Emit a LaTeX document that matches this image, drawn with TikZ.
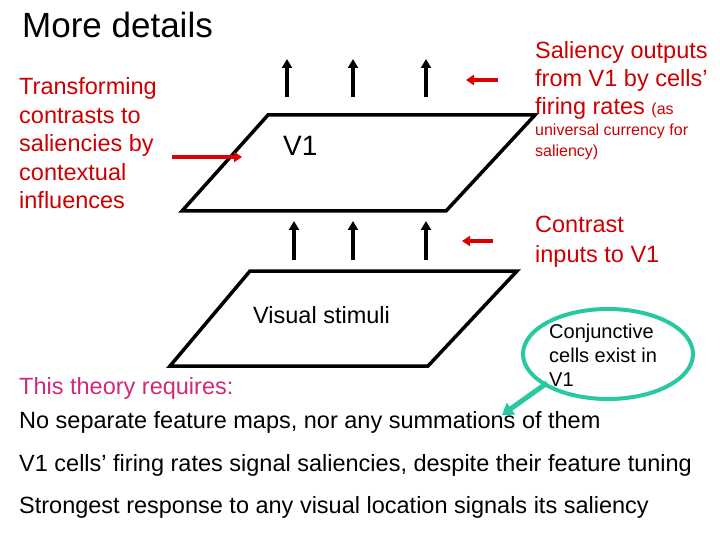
\documentclass[tikz,border=0pt]{standalone}
\usetikzlibrary{arrows.meta,shapes.geometric}
\usepackage{fontspec}
\setmainfont{Liberation Sans}
\begin{document}
\begin{tikzpicture}[x=1pt,y=-1pt,
  plane/.style={draw=black,line width=3.5pt,line join=miter},
  uparr/.style={draw=black,line width=4pt,-{Triangle[length=9pt,width=10pt]}},
  redarr/.style={draw={rgb,255:red,220;green,0;blue,0},line width=4pt,-{Triangle[length=8pt,width=10pt]}},
  txt/.style={anchor=base west,inner sep=0pt},
  big/.style={font=\fontsize{23.5}{28}\selectfont},
  small/.style={font=\fontsize{16}{20}\selectfont}]
\definecolor{rd}{RGB}{204,0,0}
\definecolor{pk}{RGB}{210,40,120}
\definecolor{tl}{RGB}{40,200,160}
\useasboundingbox (0,0) rectangle (720,540);
% title
\node[txt,font=\fontsize{35}{40}\selectfont] (title) at (22,38) {More details};
\node[txt,big,text=rd] (l1) at (19,95) {Transforming};
\node[txt,big,text=rd] (l2) at (19,124) {contrasts to};
\node[txt,big,text=rd] (l3) at (19,152) {saliencies by};
\node[txt,big,text=rd] (l4) at (19,181) {contextual};
\node[txt,big,text=rd] (l5) at (19,209) {influences};
% upper plane
\draw[plane] (268,115) -- (535,115) -- (446,211) -- (182,211) -- cycle;
\node[txt,font=\fontsize{28}{32}\selectfont] (v1) at (283,156) {V1};
\coordinate (la) at (172,157); \coordinate (lb) at (242,157);
\draw[redarr] (la) -- (lb);
\foreach \x/\n in {287/a,353/b,426/c}{
  \coordinate (u\n1) at (\x,97); \coordinate (u\n2) at (\x,59);
  \draw[uparr] (u\n1) -- (u\n2);
  \coordinate (d\n1) at (\x,260); \coordinate (d\n2) at (\x,221);
}
\draw[uparr] (294,260) -- (294,221);
\draw[uparr] (db1) -- (db2);
\draw[uparr] (dc1) -- (dc2);
\coordinate (r1a) at (498,80); \coordinate (r1b) at (466,80);
\draw[redarr] (r1a) -- (r1b);
\coordinate (r2a) at (493,241); \coordinate (r2b) at (462,241);
\draw[redarr] (r2a) -- (r2b);
% lower plane
\draw[plane] (250,271) -- (517,271) -- (428,366) -- (170,366) -- cycle;
\node[txt,font=\fontsize{23.5}{28}\selectfont] (vs) at (253,323) {Visual stimuli};
% right texts
\node[txt,big,text=rd] (s1) at (535,59) {Saliency outputs};
\node[txt,big,text=rd] (s2) at (535,87) {from V1 by cells’};
\node[txt,big,text=rd] (s3) at (535,115) {firing rates {\fontsize{16}{20}\selectfont(as}};
\node[txt,small,text=rd] (s4) at (535,136) {universal currency for};
\node[txt,small,text=rd] (s5) at (535,157) {saliency)};
\node[txt,big,text=rd] (c1) at (535,233) {Contrast};
\node[txt,big,text=rd] (c2) at (535,262) {inputs to V1};
% ellipse
\node[draw=tl,line width=4pt,ellipse,minimum width=170pt,minimum height=90pt] (ell) at (608,354) {};
\node[txt,font=\fontsize{20}{24}\selectfont] (k1) at (549,338) {Conjunctive};
\node[txt,font=\fontsize{20}{24}\selectfont] (k2) at (549,362) {cells exist in};
\node[txt,font=\fontsize{20}{24}\selectfont] (k3) at (549,386) {V1};
\coordinate (ta) at (547,383); \coordinate (tb) at (502,415);
\draw[draw=tl,line width=5pt,-{Triangle[length=11pt,width=14pt]}] (ta) -- (tb);
% bottom texts
\node[txt,font=\fontsize{23.5}{28}\selectfont,text=pk] (req) at (19,394) {This theory requires:};
\node[txt,font=\fontsize{23.5}{28}\selectfont] (b1) at (19,428) {No separate feature maps, nor any summations of them};
\node[txt,font=\fontsize{23.5}{28}\selectfont] (b2) at (19,471) {V1 cells’ firing rates signal saliencies, despite their feature tuning};
\node[txt,font=\fontsize{23.5}{28}\selectfont] (b3) at (19,513) {Strongest response to any visual location signals its saliency};
\end{tikzpicture}
\end{document}
